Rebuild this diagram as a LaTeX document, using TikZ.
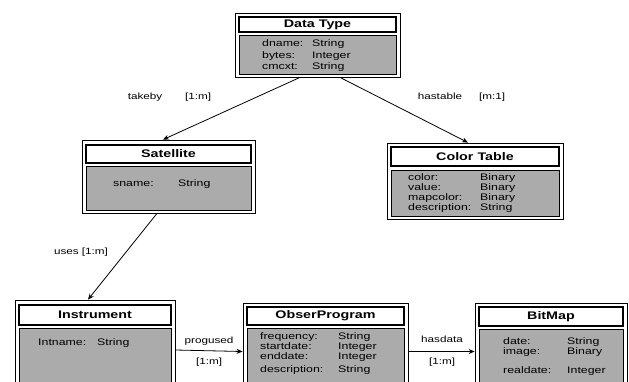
\documentclass[tikz,border=0pt]{standalone}
\usepackage{fontspec}
\setmainfont{Liberation Sans}
\newfontfamily\wfont[FakeStretch=1.3]{Liberation Sans}
\usetikzlibrary{arrows.meta,fit}
\begin{document}
\begin{tikzpicture}[x=1pt,y=-1pt,
 outerbox/.style={draw=black, line width=0.8pt, inner sep=0pt},
 titlebar/.style={draw=black, line width=1.8pt, fill=white, inner sep=0pt},
 ttl/.style={inner sep=0pt, font=\wfont\bfseries\fontsize{11}{12}\selectfont},
 attrbox/.style={draw=black, line width=0.6pt, fill=black!33, inner sep=0pt},
 attr/.style={anchor=mid west, inner sep=0pt, font=\wfont\fontsize{9.5}{10}\selectfont},
 lbl/.style={anchor=mid, inner sep=0pt, font=\wfont\fontsize{9}{10}\selectfont},
 arr/.style={draw=black, line width=0.8pt, -{Stealth[length=6pt,width=5pt]}}]
\useasboundingbox (0,0) rectangle (629,381);
\clip (0,0) rectangle (629,381);
\fill[white] (0,0) rectangle (629,381);

% Data Type
\node[outerbox, fit={(235,13)(400,77)}] (dt) {};
\node[titlebar, fit={(239,17)(396,32)}] (dtt) {};
\node[ttl] (dtn) at (dtt.center) {Data Type};
\node[attrbox, fit={(239,35)(396,74)}] (dtg) {};
\node[attr] (dta1) at (262,44) {dname:};
\node[attr] (dtb1) at (312,44) {String};
\node[attr] (dta2) at (262,56) {bytes:};
\node[attr] (dtb2) at (312,56) {Integer};
\node[attr] (dta3) at (262,67) {cmcxt:};
\node[attr] (dtb3) at (312,67) {String};

% Satellite
\node[outerbox, fit={(82,140)(255,213)}] (sat) {};
\node[titlebar, fit={(86,145)(251,163)}] (satt) {};
\node[ttl] (satn) at (satt.center) {Satellite};
\node[attrbox, fit={(86,166)(251,210)}] (satg) {};
\node[attr] (sata1) at (113,184) {sname:};
\node[attr] (satb1) at (178,184) {String};

% Color Table
\node[outerbox, fit={(387,143)(563,219)}] (ct) {};
\node[titlebar, fit={(391,147)(559,166)}] (ctt) {};
\node[ttl] (ctn) at (ctt.center) {Color Table};
\node[attrbox, fit={(391,170)(559,216)}] (ctg) {};
\node[attr] (cta1) at (408,178) {color:};
\node[attr] (ctb1) at (480,178) {Binary};
\node[attr] (cta2) at (408,187.5) {value:};
\node[attr] (ctb2) at (480,187.5) {Binary};
\node[attr] (cta3) at (408,197.5) {mapcolor:};
\node[attr] (ctb3) at (480,197.5) {Binary};
\node[attr] (cta4) at (408,208) {description:};
\node[attr] (ctb4) at (480,208) {String};

% Instrument
\node[outerbox, fit={(15,300)(175,392)}] (ins) {};
\node[titlebar, fit={(19,305)(171,325)}] (inst) {};
\node[ttl] (insn) at (inst.center) {Instrument};
\node[attrbox, fit={(19,328)(171,392)}] (insg) {};
\node[attr] (insa1) at (38,343) {Intname:};
\node[attr] (insb1) at (97,343) {String};

% ObserProgram
\node[outerbox, fit={(243,303)(408,392)}] (op) {};
\node[titlebar, fit={(247,307)(404,325)}] (opt) {};
\node[ttl] (opn) at (opt.center) {ObserProgram};
\node[attrbox, fit={(247,328)(404,392)}] (opg) {};
\node[attr] (opa1) at (260,337) {frequency:};
\node[attr] (opb1) at (338,337) {String};
\node[attr] (opa2) at (260,347) {startdate:};
\node[attr] (opb2) at (338,347) {Integer};
\node[attr] (opa3) at (260,357) {enddate:};
\node[attr] (opb3) at (338,357) {Integer};
\node[attr] (opa4) at (260,370) {description:};
\node[attr] (opb4) at (338,370) {String};

% BitMap
\node[outerbox, fit={(475,303)(627,392)}] (bm) {};
\node[titlebar, fit={(479,307)(623,326)}] (bmt) {};
\node[ttl] (bmn) at (bmt.center) {BitMap};
\node[attrbox, fit={(479,329)(623,392)}] (bmg) {};
\node[attr] (bma1) at (503,342) {date:};
\node[attr] (bmb1) at (567,342) {String};
\node[attr] (bma2) at (503,352) {image:};
\node[attr] (bmb2) at (567,352) {Binary};
\node[attr] (bma3) at (503,371) {realdate:};
\node[attr] (bmb3) at (567,371) {Integer};

% connectors
\draw[arr] ([xshift=-17.5pt]dt.south) -- ([xshift=-5.5pt]sat.north);
\draw[arr] ([xshift=22.5pt]dt.south) -- ([xshift=-7pt]ct.north);
\draw[arr] ([xshift=-11.5pt]sat.south) -- ([xshift=-7pt]ins.north);
\draw[arr] ([yshift=-4pt]ins.east) -- ([yshift=-4pt]op.west);
\draw[arr] ([yshift=-4pt]op.east) -- ([yshift=-4pt]bm.west);

% labels
\node[lbl] (l1) at (145,97) {takeby};
\node[lbl] (l2) at (198,97) {[1:m]};
\node[lbl] (l3) at (440,97) {hastable};
\node[lbl] (l4) at (492,97) {[m:1]};
\node[lbl] (l5) at (81,252) {uses [1:m]};
\node[lbl] (l6) at (209,341) {progused};
\node[lbl] (l7) at (209,362) {[1:m]};
\node[lbl] (l8) at (442,340) {hasdata};
\node[lbl] (l9) at (442,362) {[1:m]};
\end{tikzpicture}
\end{document}
